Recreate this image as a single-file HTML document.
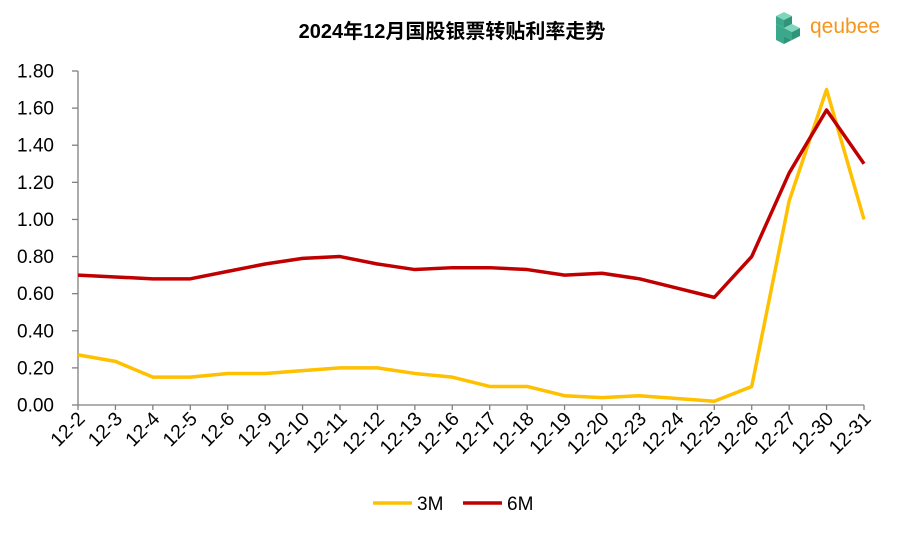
<!DOCTYPE html>
<html><head><meta charset="utf-8"><style>
html,body{margin:0;padding:0;background:#fff;width:904px;height:533px;overflow:hidden}
svg text{font-family:"Liberation Sans","Noto Sans CJK SC",sans-serif}
</style></head><body>
<svg id="s" width="904" height="533" viewBox="0 0 904 533" xmlns="http://www.w3.org/2000/svg">
<text x="452" y="38" text-anchor="middle" font-size="20" font-weight="bold" fill="#000">2024年12月国股银票转贴利率走势</text>
<g transform="translate(776,12)">
<polygon points="8,0 16,4 8,8 0,4" fill="#7fd6bc"/>
<polygon points="0,4 8,8 8,16 0,12" fill="#3aa88a"/>
<polygon points="16,4 8,8 8,16 16,12" fill="#2f9479"/>
<polygon points="16,12 24,16 16,20 8,16" fill="#7fd6bc"/>
<polygon points="8,16 16,20 16,28 8,24" fill="#3aa88a"/>
<polygon points="24,16 16,20 16,28 24,24" fill="#2f9479"/>
<polygon points="8,16 0,12 0,28 8,32" fill="#3aa88a"/>
<polygon points="8,24 16,28 8,32" fill="#2f9479"/>
</g>
<text x="810" y="33" font-size="21" fill="#f7941d">qeubee</text>
<g id="g"></g>
</svg>
<script>
var X0=78,X1=864,Y0=405,Y1=71,n=22;
var labs=["12-2","12-3","12-4","12-5","12-6","12-9","12-10","12-11","12-12","12-13","12-16","12-17","12-18","12-19","12-20","12-23","12-24","12-25","12-26","12-27","12-30","12-31"];
var a=[0.27,0.235,0.15,0.15,0.17,0.17,0.185,0.20,0.20,0.17,0.15,0.10,0.10,0.05,0.04,0.05,0.035,0.02,0.10,1.10,1.70,1.00];
var b=[0.70,0.69,0.68,0.68,0.72,0.76,0.79,0.80,0.76,0.73,0.74,0.74,0.73,0.70,0.71,0.68,0.63,0.58,0.80,1.25,1.59,1.30];
function xp(i){return X0+(X1-X0)*i/(n-1)}
function yp(v){return Y0-(Y0-Y1)*v/1.8}
var h="";
h+='<line x1="'+X0+'" y1="'+Y1+'" x2="'+X0+'" y2="'+Y0+'" stroke="#808080" stroke-width="1.3"/>';
h+='<line x1="'+X0+'" y1="'+Y0+'" x2="'+X1+'" y2="'+Y0+'" stroke="#808080" stroke-width="1.3"/>';
for(var k=0;k<=9;k++){var v=k*0.2,y=yp(v);
h+='<line x1="72" y1="'+y+'" x2="'+X0+'" y2="'+y+'" stroke="#808080" stroke-width="1.3"/>';
h+='<text x="54" y="'+(y+6.5)+'" text-anchor="end" font-size="19" fill="#000">'+v.toFixed(2)+'</text>';}
for(var i=0;i<n;i++){var x=xp(i);
h+='<line x1="'+x+'" y1="'+Y0+'" x2="'+x+'" y2="'+(Y0+5)+'" stroke="#808080" stroke-width="1.3"/>';
h+='<text x="0" y="0" text-anchor="end" font-size="19.5" fill="#000" transform="translate('+(x+8)+',420) rotate(-45)">'+labs[i]+'</text>';}
function pl(d,c){var p=d.map(function(v,i){return xp(i)+","+yp(v)}).join(" ");
return '<polyline points="'+p+'" fill="none" stroke="'+c+'" stroke-width="3.5" stroke-linejoin="round"/>';}
h+=pl(a,"#ffc000")+pl(b,"#c00000");
h+='<line x1="373" y1="503" x2="412" y2="503" stroke="#ffc000" stroke-width="3.5"/><text x="417" y="510" font-size="19">3M</text>';
h+='<line x1="463" y1="503" x2="502" y2="503" stroke="#c00000" stroke-width="3.5"/><text x="507" y="510" font-size="19">6M</text>';
document.getElementById("g").innerHTML=h;
</script>
</body></html>
